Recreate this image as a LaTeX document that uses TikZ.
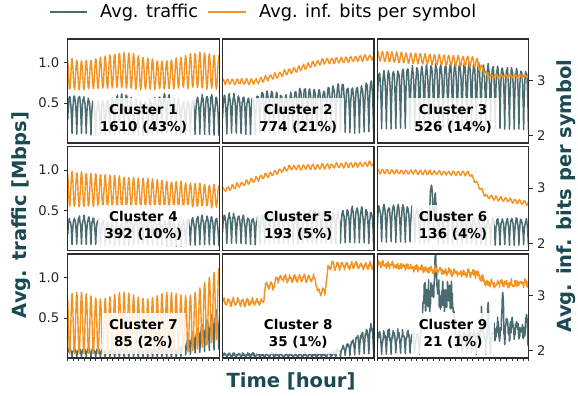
\documentclass[tikz,border=0pt]{standalone}
\usepackage{fontspec}
\setmainfont{DejaVu Sans}
\definecolor{trc}{HTML}{4A6B70}
\definecolor{orc}{HTML}{F39323}
\definecolor{labc}{HTML}{1B4A53}
\definecolor{spc}{HTML}{2E2E2E}
\newcommand\drawpanel[6]{%
  \begin{scope}
    \clip (#1,#2) rectangle ++(151.5,104);
    \begin{scope}[shift={(#1pt,#2pt-0.8125pt)}, x=4.734pt, y=81.25pt]
      \draw[trline] plot[domain=0:32, samples=385] (\x,{#3});
    \end{scope}
    \begin{scope}[shift={(#1pt,#2pt-103.45pt)}, x=4.734pt, y=55.32pt]
      \draw[orline] plot[domain=0:32, samples=385] (\x,{#4});
    \end{scope}
  \end{scope}
  \node[clabel] (#6) at (#1+75.75,#2+4) {#5};
  \draw[spine] (#1,#2) rectangle ++(151.5,104);
}
\begin{document}
\pgfmathsetseed{42}
\begin{tikzpicture}[x=1pt,y=1pt,
  trline/.style={draw=trc, line width=1.5pt, line join=round},
  orline/.style={draw=orc, line width=1.4pt, line join=round},
  spine/.style={draw=spc, line width=1.1pt},
  tickline/.style={draw=spc, line width=0.9pt},
  ticklab/.style={font=\fontsize{13.2}{15}\selectfont, text=black!85, inner sep=0pt},
  clabel/.style={fill=white, fill opacity=0.85, text opacity=1, font=\bfseries\fontsize{13.5}{17}\selectfont, align=center, inner xsep=7pt, inner ysep=6pt, anchor=south},
  axlab/.style={font=\bfseries\fontsize{19.5}{22}\selectfont, text=labc, inner sep=0pt},
  legtext/.style={font=\fontsize{17.7}{20}\selectfont, inner sep=0pt, anchor=base west},
  declare function={dip(\zz)=0.03+0.97*sqrt(abs(sin(180*\zz+17)));
    ramp(\zz,\za,\zb)=min(1,max(0,(\zz-\za)/(\zb-\za)));
    tri(\zz,\za,\zb)=max(0,1-abs(\zz-\za)/\zb);}
]
\useasboundingbox (0,0) rectangle (578,396);

% legend
\coordinate (la) at (50,384.3);
\coordinate (lb) at (87,384.3);
\coordinate (lc) at (208,384.3);
\coordinate (ld) at (246,384.3);
\draw[trc, line width=2pt] (la) -- (lb);
\draw[orc, line width=2pt] (lc) -- (ld);
\node[legtext] (leg1) at (100,378.7) {Avg. traffic};
\node[legtext] (leg2) at (259,378.7) {Avg. inf. bits per symbol};

% row 1
\drawpanel{67.7}{253}{(0.55+0.04*sin(40*\x)+0.03*rand)*dip(\x)}{3.14-0.04*sin(22*\x+20)+(0.29-0.03*sin(22*\x))*sin(360*\x+120)+0.015*rand}{Cluster 1\\1610 (43\%)}{c1}
\drawpanel{222.5}{253}{(0.56+0.0055*\x+0.03*sin(48*\x)+0.03*rand)*dip(\x)}{2.98+0.36*ramp(\x,7,21)+0.08*ramp(\x,21,32)+0.045*sin(360*\x+60)+0.015*rand}{Cluster 2\\774 (21\%)}{c2}
\drawpanel{377.3}{253}{(0.86+0.12*sin(5.2*\x)+0.03*rand)*dip(\x)}{3.08+(0.36-0.005*\x)*(1-ramp(\x,20.8,23.5))+(0.03+0.06*(1-ramp(\x,20.8,23.5)))*sin(360*\x+60)+0.012*rand}{Cluster 3\\526 (14\%)}{c3}
% row 2
\drawpanel{67.7}{145.5}{(0.38+0.04*sin(28*\x)+0.03*rand)*dip(\x)}{2.98-0.004*\x+(0.32-0.004*\x)*sin(360*\x+120)+0.02*rand}{Cluster 4\\392 (10\%)}{c4}
\drawpanel{222.5}{145.5}{(0.42+0.003*\x+0.03*sin(42*\x)+0.03*rand)*dip(\x)}{2.98+0.38*ramp(\x,1,14)+0.08*ramp(\x,14,32)+0.04*sin(360*\x+60)+0.015*rand}{Cluster 5\\193 (5\%)}{c5}
\drawpanel{377.3}{145.5}{(0.55-0.16*ramp(\x,6,22)+0.03*rand+0.3*ramp(\x,10.9,11.2)*(1-ramp(\x,12.2,12.5)))*dip(\x)}{2.72+0.14*(1-ramp(\x,22,32))+(0.44-0.002*\x)*(1-ramp(\x,19.5,23))+0.035*sin(360*\x+60)+0.012*rand}{Cluster 6\\136 (4\%)}{c6}
% row 3
\drawpanel{67.7}{38}{(0.12+0.5*ramp(\x,23,32)+0.02*rand)*dip(\x)}{2.475+0.03*sin(38*\x)+0.365*ramp(\x,22,32)*ramp(\x,22,32)+(0.525+0.03*sin(38*\x)+0.085*ramp(\x,22,32)*ramp(\x,22,32))*sin(360*\x+120)}{Cluster 7\\85 (2\%)}{c7}
\drawpanel{222.5}{38}{(0.06+0.35*ramp(\x,23,32)+0.02*rand+0.06*ramp(\x,23,32)*rand)*dip(\x)}{2.88+0.3*ramp(\x,8.6,9.1)+0.13*ramp(\x,11,11.5)-0.25*ramp(\x,19.6,20.2)+0.48*ramp(\x,21.6,22.4)+0.05*sin(360*\x)+0.04*rand}{Cluster 8\\35 (1\%)}{c8}
\drawpanel{377.3}{38}{(0.32+0.06*rand)*dip(\x)*(1-ramp(\x,9.3,9.8)*(1-ramp(\x,16,16.5)))+ramp(\x,9.3,9.8)*(1-ramp(\x,16,16.5))*(0.78+0.2*rand)+0.5*tri(\x,12.3,0.3)+0.45*tri(\x,22,0.25)+0.4*tri(\x,23.4,0.25)+ramp(\x,24.3,24.8)*(0.12+0.1*rand)+0.45*tri(\x,26.5,0.3)}{3.22+0.18*(1-ramp(\x,21,23))+0.17*(1-ramp(\x,0,18))+0.06*rand+0.03*sin(360*\x)}{Cluster 9\\21 (1\%)}{c9}

% y ticks
\foreach \Y/\r in {253/1,145.5/2,38/3}{
  \draw[tickline] (67.7,\Y+80.44) -- ++(-4.2,0);
  \draw[tickline] (67.7,\Y+39.81) -- ++(-4.2,0);
  \node[ticklab, anchor=east] (ya\r) at (59.5,\Y+80.44) {1.0};
  \node[ticklab, anchor=east] (yb\r) at (59.5,\Y+39.81) {0.5};
  \draw[tickline] (528.8,\Y+62.51) -- ++(4.2,0);
  \draw[tickline] (528.8,\Y+7.19) -- ++(4.2,0);
  \node[ticklab, anchor=west] (za\r) at (537,\Y+62.51) {3};
  \node[ticklab, anchor=west] (zb\r) at (537,\Y+7.19) {2};
}
% x ticks
\foreach \X in {67.7,222.5,377.3}{
  \foreach \d in {0,...,27}{
    \draw[tickline] (\X+\d*5.611,38) -- ++(0,-3.5);
  }
}

% axis labels
\node[axlab, rotate=90] (ylab) at (21.5,181) {Avg. traffic [Mbps]};
\node[axlab, rotate=90] (y2lab) at (566,200) {Avg. inf. bits per symbol};
\node[axlab, anchor=base] (xlab) at (291,8) {Time [hour]};
\end{tikzpicture}
\end{document}
